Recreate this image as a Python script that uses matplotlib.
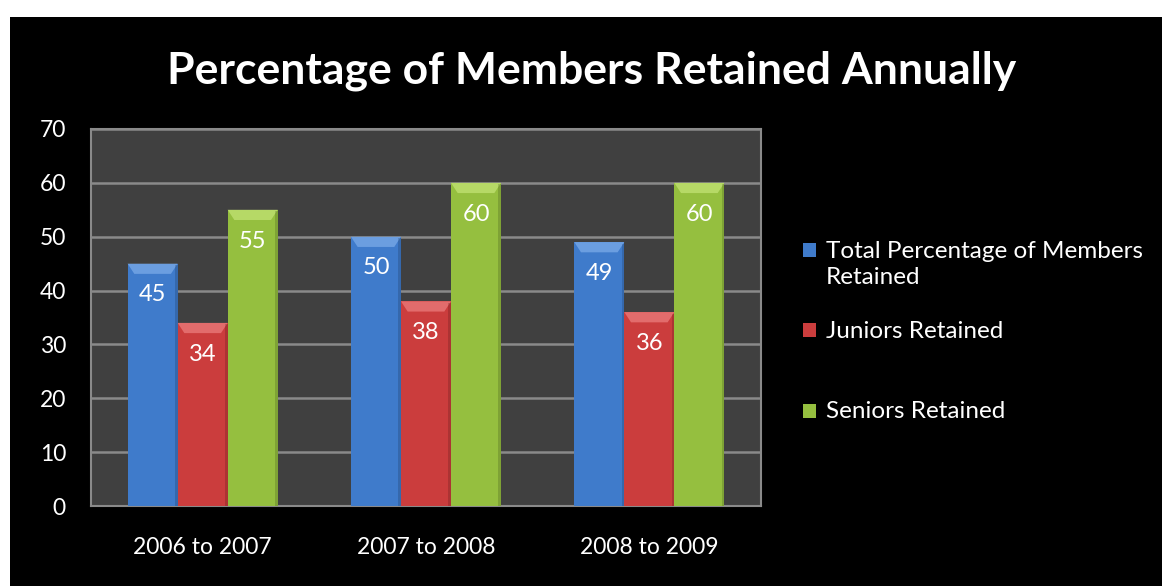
import matplotlib.pyplot as plt
from matplotlib.patches import Rectangle, Polygon
import numpy as np

# chart data
periods = ['2006 to 2007', '2007 to 2008', '2008 to 2009']
series_names = ['Total Percentage of Members\nRetained', 'Juniors Retained', 'Seniors Retained']
total = [45, 50, 49]
juniors = [34, 38, 36]
seniors = [55, 60, 60]
yticks = [0, 10, 20, 30, 40, 50, 60, 70]

colors = ['#3F7BCB', '#CB3D3D', '#95BF3F']
tops = ['#7AAAE8', '#EA7C7C', '#C2E274']

plt.rcParams['font.family'] = ['Lato', 'DejaVu Sans']

fig = plt.figure(figsize=(11.62, 5.86), dpi=100, facecolor='white')
# black chart area, white margin at top and left
fig.patches.append(Rectangle((0.0086, 0), 1, 0.971, transform=fig.transFigure,
                             facecolor='black', edgecolor='none', zorder=-10))

ax = fig.add_axes([0.0783, 0.1365, 0.5766, 0.6434])
ax.set_facecolor('#404040')

x = np.arange(len(periods))
w = 0.224
bevel_h = 1.9
bevel_in = 0.03
for i, (vals, c, tc) in enumerate(zip([total, juniors, seniors], colors, tops)):
    bars = ax.bar(x + (i - 1) * w, vals, w, color=c, zorder=3, edgecolor='none')
    for b, v in zip(bars, vals):
        x0, x1, h = b.get_x(), b.get_x() + b.get_width(), b.get_height()
        ax.add_patch(Polygon([(x0, h), (x1, h), (x1 - bevel_in, h - bevel_h), (x0 + bevel_in, h - bevel_h)],
                             closed=True, facecolor=tc, edgecolor='none', alpha=0.75, zorder=4))
        ax.add_patch(Rectangle((x1 - 0.012, 0), 0.012, h - 0.3, facecolor='black',
                               alpha=0.15, edgecolor='none', zorder=4))
        ax.text(b.get_x() + b.get_width() / 2, h - 5.8, str(v), ha='center', va='center',
                color='white', fontsize=17, zorder=5)

ax.set_xlim(-0.5, 2.5)
ax.set_ylim(0, 70)
ax.set_yticks(yticks)
ax.set_xticks(x)
ax.set_xticklabels(periods)
ax.grid(axis='y', color='#8A8A8A', linewidth=1.8, zorder=1)
ax.tick_params(colors='white', labelsize=16.5, length=0)
ax.tick_params(axis='x', pad=22)
ax.tick_params(axis='y', pad=18)
for s in ax.spines.values():
    s.set_color('#8A8A8A')
    s.set_linewidth(1.5)

fig.text(0.509, 0.88, 'Percentage of Members Retained Annually', ha='center', va='center',
         color='white', fontsize=32, fontweight='bold')

# legend
leg_y = [0.573, 0.437, 0.299]
for name, c, ly in zip(series_names, colors, leg_y):
    fig.patches.append(Rectangle((0.691, ly - 0.012), 0.0115, 0.024, transform=fig.transFigure,
                                 facecolor=c, edgecolor='none'))
    fig.text(0.711, ly + 0.016, name, ha='left', va='top', color='white', fontsize=17.5,
             linespacing=1.3)

fig.savefig('out.png', dpi=100, facecolor=fig.get_facecolor())
